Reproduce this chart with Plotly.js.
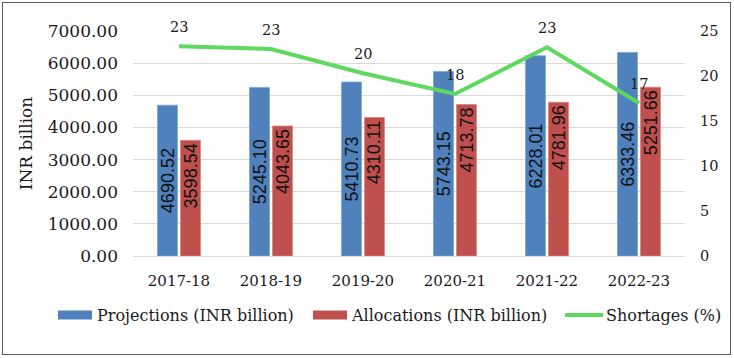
<!DOCTYPE html>
<html>
<head>
<meta charset="utf-8">
<script src="https://cdn.plot.ly/plotly-3.0.1.min.js"></script>
<style>
  html, body { margin: 0; padding: 0; background: #ffffff; }
  #wrap { position: relative; width: 734px; height: 358px; }
  #chart { position: absolute; left: 0; top: 0; width: 734px; height: 358px; }
  #frame { position: absolute; left: 2px; top: 2px; width: 727px; height: 351px;
           border: 1.5px solid #5a5a5a; pointer-events: none; }
</style>
</head>
<body>
<div id="wrap">
  <div id="chart"></div>
  <div id="frame"></div>
</div>
<script>
const years = ["2017-18", "2018-19", "2019-20", "2020-21", "2021-22", "2022-23"];
const projections = [4690.52, 5245.10, 5410.73, 5743.15, 6228.01, 6333.46];
const allocations = [3598.54, 4043.65, 4310.11, 4713.78, 4781.96, 5251.66];
const shortages = [23.3, 23.0, 20.3, 18.0, 23.2, 17.0];
const seriesNames = ["Projections (INR billion)", "Allocations (INR billion)", "Shortages (%)"];
const seriesColors = ["#4F81BD", "#C0504D", "#5ED85E"];
const leftTicks = [0, 1000, 2000, 3000, 4000, 5000, 6000, 7000];
const rightTicks = [0, 5, 10, 15, 20, 25];

const serif = "DejaVu Serif, serif";
const sans = "Liberation Sans, Arial, sans-serif";

const barText = (vals) => vals.map(v => v.toFixed(2));

const traces = [
  {
    type: "bar", name: seriesNames[0], x: years, y: projections,
    marker: { color: seriesColors[0], line: { color: "#7FA3D3", width: 0.8 } },
    text: barText(projections), textposition: "inside", textangle: -90,
    insidetextanchor: "middle", constraintext: "none",
    insidetextfont: { family: sans, size: 18, color: "#111111" },
    hoverinfo: "skip"
  },
  {
    type: "bar", name: seriesNames[1], x: years, y: allocations,
    marker: { color: seriesColors[1], line: { color: "#D98683", width: 0.8 } },
    text: barText(allocations), textposition: "inside", textangle: -90,
    insidetextanchor: "end", constraintext: "none",
    insidetextfont: { family: sans, size: 18, color: "#111111" },
    hoverinfo: "skip"
  },
  {
    type: "scatter", mode: "lines", name: seriesNames[2], x: years, y: shortages,
    yaxis: "y2", line: { color: seriesColors[2], width: 4 }, hoverinfo: "skip"
  }
];

// plot area in pixels: x 133..685, y 31..256
const PX = (px) => (px - 133) / 552;
const PY = (py) => (256 - py) / 225;

const annotations = years.map((yr, i) => ({
  x: yr, y: shortages[i], xref: "x", yref: "y2",
  text: String(Math.round(shortages[i])), showarrow: false,
  yshift: 19, font: { family: serif, size: 14.5, color: "#1a1a1a" }
}));

// legend drawn as shapes + text
const legendSwatchX = [[58, 92], [313, 347], [565, 603]];
const legendTextX = [95, 349, 604];
const legendY = 315;
const shapes = [];
seriesNames.forEach((nm, i) => {
  const [a, b] = legendSwatchX[i];
  if (i < 2) {
    shapes.push({ type: "rect", xref: "paper", yref: "paper",
      x0: PX(a), x1: PX(b), y0: PY(legendY + 4.5), y1: PY(legendY - 4.5),
      fillcolor: seriesColors[i], line: { width: 0 } });
  } else {
    shapes.push({ type: "line", xref: "paper", yref: "paper",
      x0: PX(a), x1: PX(b), y0: PY(legendY), y1: PY(legendY),
      line: { color: seriesColors[i], width: 4 } });
  }
  annotations.push({ xref: "paper", yref: "paper", x: PX(legendTextX[i]), y: PY(legendY),
    xanchor: "left", yanchor: "middle", showarrow: false, text: nm,
    font: { family: serif, size: 16, color: "#1a1a1a" } });
});

const layout = {
  width: 734, height: 358,
  margin: { l: 133, r: 49, t: 31, b: 102, pad: 0 },
  paper_bgcolor: "#ffffff", plot_bgcolor: "#ffffff",
  barmode: "group", bargap: 0.5, bargroupgap: 0.13,
  showlegend: false,
  xaxis: {
    type: "category", tickfont: { family: serif, size: 15, color: "#1a1a1a" },
    ticks: "", showline: false, showgrid: false, ticklabelstandoff: 14,
    fixedrange: true
  },
  yaxis: {
    range: [0, 7000], tickvals: leftTicks, tickformat: ".2f",
    tickfont: { family: serif, size: 17, color: "#1a1a1a" },
    gridcolor: "#d9d9d9", gridwidth: 1, zeroline: true, zerolinecolor: "#d9d9d9",
    zerolinewidth: 1, showline: false, ticks: "", ticklabelstandoff: 14,
    title: { text: "INR billion", font: { family: serif, size: 17, color: "#1a1a1a" }, standoff: 10 },
    automargin: false, fixedrange: true
  },
  yaxis2: {
    overlaying: "y", side: "right", range: [0, 25], tickvals: rightTicks,
    tickfont: { family: serif, size: 14.5, color: "#1a1a1a" },
    showgrid: false, zeroline: false, showline: false, ticks: "",
    ticklabelstandoff: 14, automargin: false, fixedrange: true
  },
  shapes: shapes,
  annotations: annotations
};

Plotly.newPlot("chart", traces, layout, { displayModeBar: false, staticPlot: true });
</script>
</body>
</html>
